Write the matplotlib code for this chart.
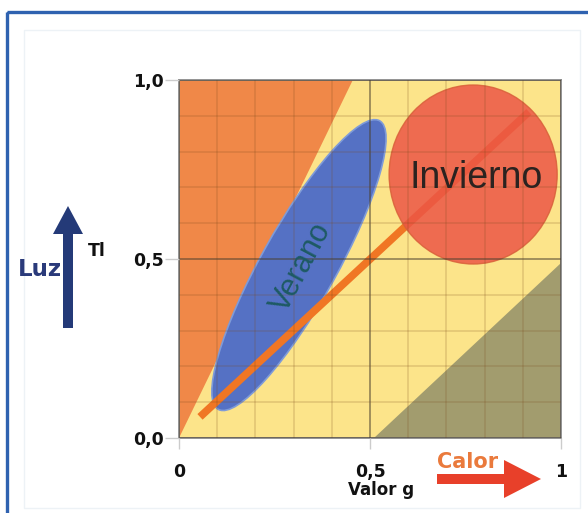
import matplotlib
matplotlib.use("Agg")
import matplotlib.pyplot as plt
from matplotlib.patches import Polygon, Ellipse, FancyArrow, Rectangle
from matplotlib.ticker import MultipleLocator

# Axis ticks and labels
x_ticks = [0, 0.5, 1]
x_tick_labels = ["0", "0,5", "1"]
y_ticks = [0.0, 0.5, 1.0]
y_tick_labels = ["0,0", "0,5", "1,0"]

# Zones in (valor g, Tl)
luz_zone = [(0.0, 0.0), (0.455, 1.0), (0.0, 1.0)]
calor_zone = [(0.51, 0.0), (1.0, 0.0), (1.0, 0.49)]

# Summer ellipse: centre, (major, minor), angle in degrees
verano_center = (0.314, 0.483)
verano_size = (0.91, 0.2)
verano_angle = 62.5

# Winter disc: centre, (width, height)
invierno_center = (0.770, 0.736)
invierno_size = (0.44, 0.50)

# Trend line
trend_g = [0.055, 0.916]
trend_tl = [0.059, 0.911]

YELLOW = "#FCE48A"
ORANGE = "#F08848"
OLIVE = "#A29C6E"
BLUE = "#5571C4"
DISC = "#EC5646"
LINE = "#F07624"

fig = plt.figure(figsize=(5.88, 5.13), dpi=100)
fig.patch.set_facecolor("white")

# Overlay in pixel units for the frame and the arrows
ov = fig.add_axes([0, 0, 1, 1], zorder=0)
ov.set_xlim(0, 588)
ov.set_ylim(513, 0)
ov.axis("off")
ov.add_patch(Rectangle((7, 12), 620, 520, fill=False, edgecolor="#2F62B0", lw=2.4))
ov.add_patch(Rectangle((24, 30), 556, 478, fill=False, edgecolor="#EDF2F6", lw=1.0))

ov.add_patch(FancyArrow(68, 328, 0, -122, width=10, head_width=30, head_length=28,
                        length_includes_head=True, color="#243A78", lw=0))
ov.add_patch(FancyArrow(437, 479, 104, 0, width=10, head_width=38, head_length=37,
                        length_includes_head=True, color="#E8402A", lw=0))
ov.text(40, 270, "Luz", fontsize=16.5, fontweight="bold", color="#2A3A7A",
        ha="center", va="center", family="DejaVu Sans")
ov.text(97, 251, "Tl", fontsize=12.5, fontweight="bold", color="#111111",
        ha="center", va="center", family="DejaVu Sans")
ov.text(468, 462, "Calor", fontsize=15, fontweight="bold", color="#EA7A3C",
        ha="center", va="center", family="DejaVu Sans")
ov.text(381, 490, "Valor g", fontsize=12, fontweight="bold", color="#111111",
        ha="center", va="center", family="DejaVu Sans")

# Main chart
ax = fig.add_axes([179 / 588, 75 / 513, 382 / 588, 358 / 513], zorder=1)
ax.set_facecolor(YELLOW)
ax.set_xlim(0, 1)
ax.set_ylim(0, 1)

ax.add_patch(Polygon(luz_zone, closed=True, facecolor=ORANGE, edgecolor="none", zorder=0.5))
ax.add_patch(Polygon(calor_zone, closed=True, facecolor=OLIVE, edgecolor="none", zorder=0.5))
ax.add_patch(Ellipse(verano_center, verano_size[0], verano_size[1], angle=verano_angle,
                     facecolor=BLUE, edgecolor="#7F9BD8", lw=1.2, zorder=1))
ax.plot(trend_g, trend_tl, color=LINE, lw=5.5, solid_capstyle="butt", zorder=1.5)
ax.add_patch(Ellipse(invierno_center, invierno_size[0], invierno_size[1],
                     facecolor=DISC, alpha=0.85, edgecolor="#D9603A", lw=1.0, zorder=1.6))

ax.xaxis.set_minor_locator(MultipleLocator(0.1))
ax.yaxis.set_minor_locator(MultipleLocator(0.1))
ax.set_axisbelow(False)
ax.grid(which="minor", color="#7A4A1A", alpha=0.18, lw=1.3)
ax.grid(which="major", color="#4A4030", alpha=0.65, lw=1.1)
ax.tick_params(which="minor", length=0)

ax.set_xticks(x_ticks, x_tick_labels)
ax.set_yticks(y_ticks, y_tick_labels)
ax.tick_params(axis="x", which="major", length=8, pad=10, color="#CCCCCC", width=1)
ax.tick_params(axis="y", which="major", length=10, pad=1, color="#CCCCCC", width=1)
for lab in ax.get_xticklabels() + ax.get_yticklabels():
    lab.set_fontweight("bold")
    lab.set_fontsize(12.5)
    lab.set_family("DejaVu Sans")
    lab.set_color("#111111")

for sp in ax.spines.values():
    sp.set_color("#8A8A8A")
    sp.set_linewidth(1.3)

ax.text(0.777, 0.725, "Invierno", fontsize=27, family="Liberation Sans",
        color="#2B2320", ha="center", va="center", zorder=4)
ax.text(0.322, 0.475, "Verano", fontsize=22, family="Liberation Sans",
        color="#1E5A64", ha="center", va="center", rotation=62,
        rotation_mode="anchor", zorder=4)

fig.savefig("out.png", dpi=100)
